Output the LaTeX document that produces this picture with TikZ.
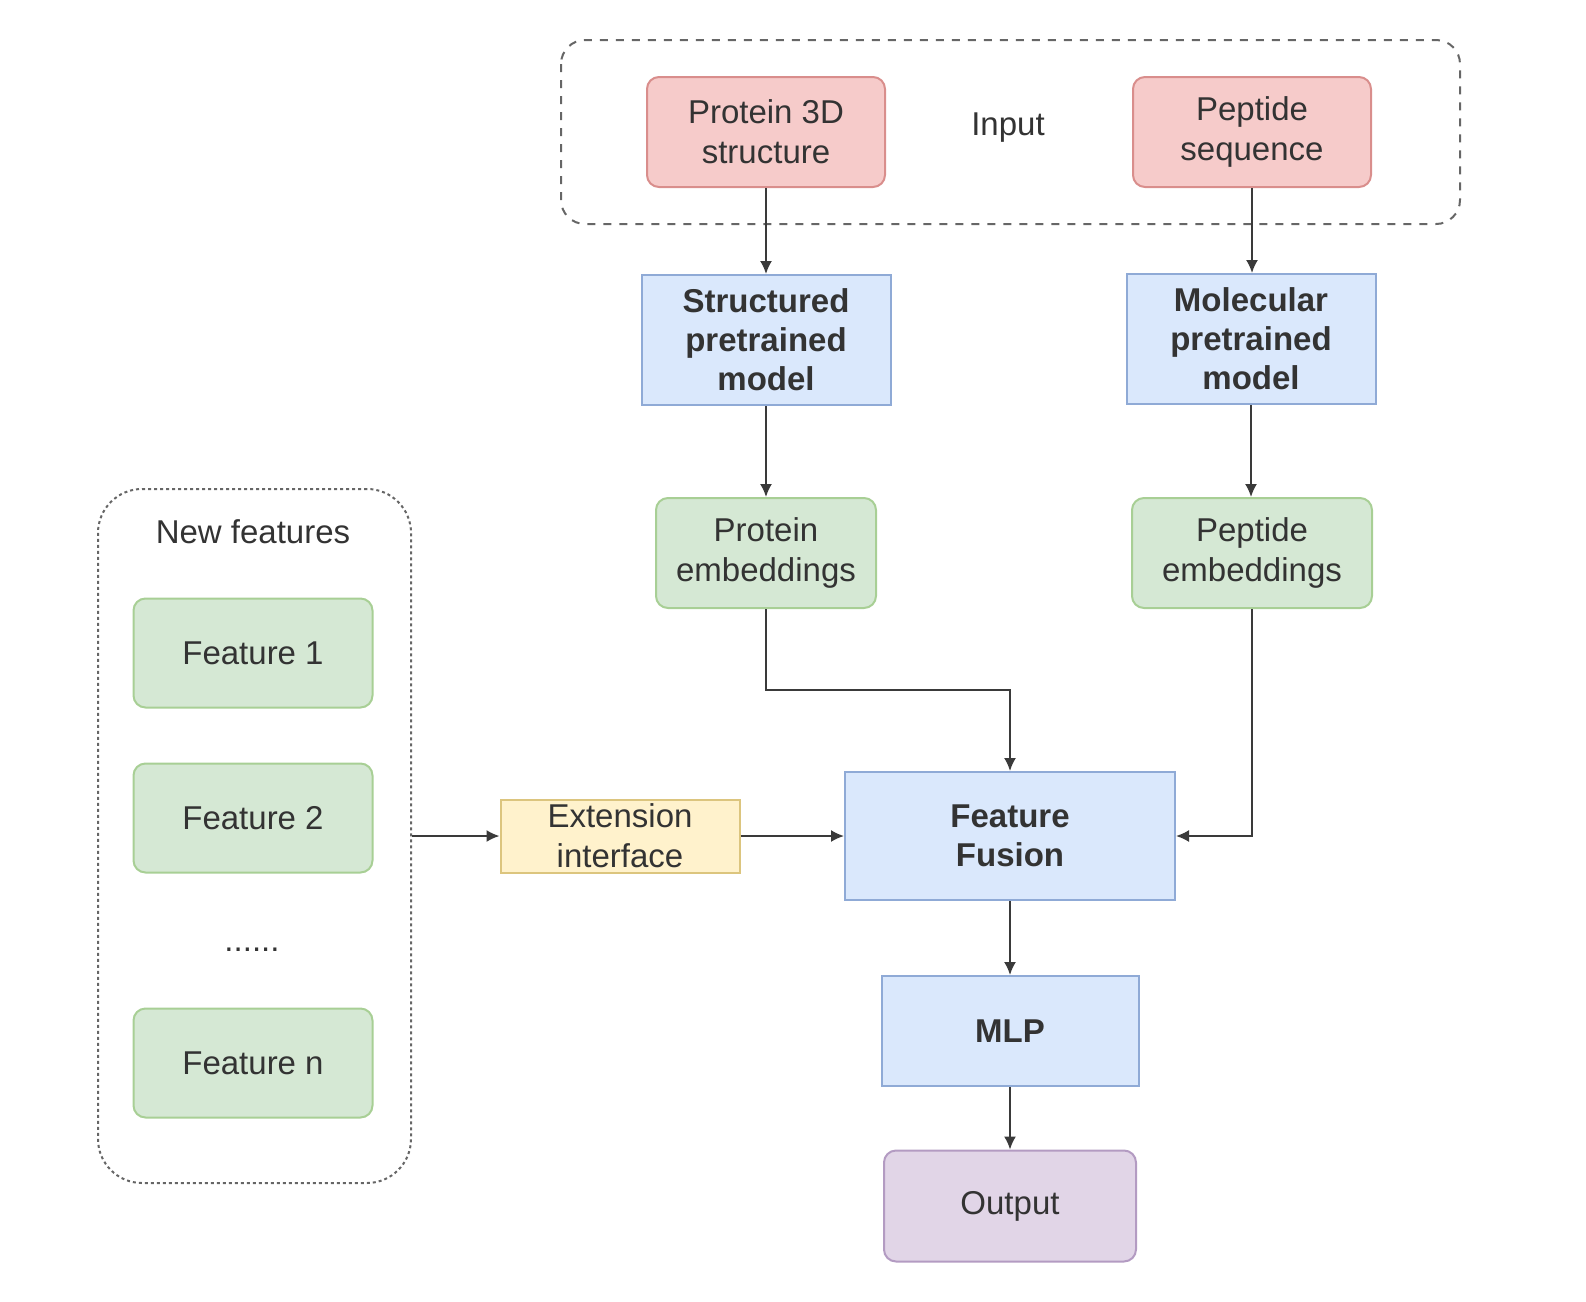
\documentclass[tikz,border=0pt]{standalone}
\usepackage{fontspec}
\setmainfont{Liberation Sans}
\usetikzlibrary{arrows.meta}
\definecolor{txt}{HTML}{333333}
\definecolor{redF}{HTML}{F6CBCA}\definecolor{redD}{HTML}{D98E8C}
\definecolor{bluF}{HTML}{DAE8FC}\definecolor{bluD}{HTML}{8FAAD6}
\definecolor{grnF}{HTML}{D5E8D4}\definecolor{grnD}{HTML}{A8CF95}
\definecolor{ylwF}{HTML}{FFF2CC}\definecolor{ylwD}{HTML}{DCC57E}
\definecolor{purF}{HTML}{E1D5E7}\definecolor{purD}{HTML}{B39BC2}
\definecolor{lineC}{HTML}{3A3A3A}
\tikzset{
  base/.style={inner sep=0pt, align=center, text=txt, line width=1pt,
    font=\fontsize{16.5}{20}\selectfont},
  redbox/.style={base, draw=redD, fill=redF, rounded corners=6pt},
  blubox/.style={base, draw=bluD, fill=bluF, font=\fontsize{16.5}{19.5}\selectfont\bfseries},
  grnbox/.style={base, draw=grnD, fill=grnF, rounded corners=6pt},
  ylwbox/.style={base, draw=ylwD, fill=ylwF},
  purbox/.style={base, draw=purD, fill=purF, rounded corners=6pt},
  arr/.style={draw=lineC, line width=0.9pt, -{Latex[length=6.5pt,width=6pt]}},
  plain/.style={base, font=\fontsize{16.5}{20}\selectfont},
}
\begin{document}
\begin{tikzpicture}[x=0.5pt,y=-0.5pt]
\path[use as bounding box] (0,0) rectangle (1586,1302);
% group frames
\draw[line width=1pt, draw=black!60, dash pattern=on 4pt off 4pt, rounded corners=12pt]
  (561,40) rectangle (1460,224);
\node[minimum width=156.5pt, minimum height=347pt, inner sep=0pt, draw=black!60, line width=1pt,
  dash pattern=on 1.5pt off 1.5pt, rounded corners=22pt] (nf) at (254.5,836) {};
% nodes
\node[redbox, minimum width=119pt, minimum height=55pt] (p3d) at (766,132) {Protein 3D\\structure};
\node[plain] (inp) at (1008,128) {Input};
\node[redbox, minimum width=119pt, minimum height=55pt] (pseq) at (1252,132) {Peptide\\sequence};
\node[blubox, minimum width=124.5pt, minimum height=65pt] (spm) at (766,340) {Structured\\pretrained\\model};
\node[blubox, minimum width=124.5pt, minimum height=65pt] (mpm) at (1251,339) {Molecular\\pretrained\\model};
\node[grnbox, minimum width=110pt, minimum height=55pt] (pemb) at (766,553) {Protein\\embeddings};
\node[grnbox, minimum width=120pt, minimum height=55pt] (pepemb) at (1252,553) {Peptide\\embeddings};
\node[plain] (nflab) at (253,532) {New features};
\node[grnbox, minimum width=119.5pt, minimum height=54.5pt] (f1) at (253,653) {Feature 1};
\node[grnbox, minimum width=119.5pt, minimum height=54.5pt] (f2) at (253,818) {Feature 2};
\node[plain] (dots) at (252,950) {......};
\node[grnbox, minimum width=119.5pt, minimum height=54.5pt] (fn) at (253,1063) {Feature n};
\node[ylwbox, minimum width=119.5pt, minimum height=36.5pt] (ext) at (620,836) {Extension\\interface};
\node[blubox, minimum width=165pt, minimum height=64pt] (ff) at (1010,836) {Feature\\Fusion};
\node[blubox, minimum width=128.5pt, minimum height=55pt] (mlp) at (1010,1031) {MLP};
\node[purbox, minimum width=126pt, minimum height=55.5pt] (out) at (1010,1206) {Output};
% connectors
\coordinate (bendy) at (0,690);
\draw[arr] (p3d) -- (spm);
\draw[arr] (pseq.south) -- (pseq.south |- mpm.north);
\draw[arr] (spm) -- (pemb);
\draw[arr] (mpm.south) -- (mpm.south |- pepemb.north);
\draw[arr] (pemb.south) -- (pemb.south |- bendy) -| (ff.north);
\draw[arr] (pepemb.south) |- (ff.east);
\draw[arr] (nf.east) -- (ext.west);
\draw[arr] (ext) -- (ff);
\draw[arr] (ff) -- (mlp);
\draw[arr] (mlp) -- (out);
\end{tikzpicture}
\end{document}
